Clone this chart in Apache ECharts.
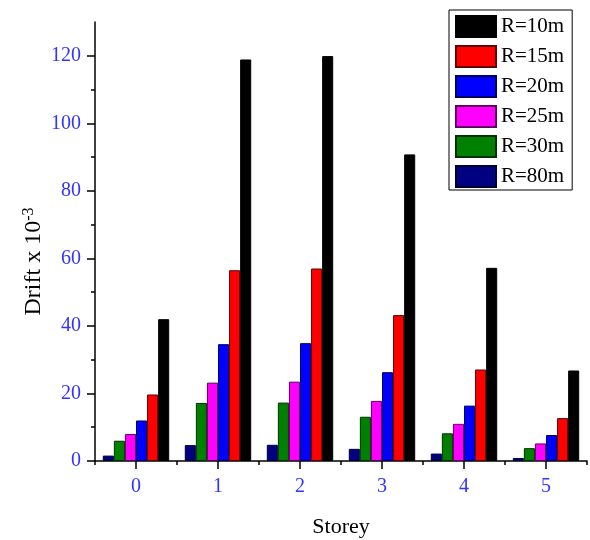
<!DOCTYPE html>
<html>
<head>
<meta charset="utf-8">
<script src="https://cdn.jsdelivr.net/npm/echarts@6/dist/echarts.min.js"></script>
<style>html,body{margin:0;padding:0;background:#fff}#c{width:590px;height:540px}</style>
</head>
<body>
<div id="c"></div>
<script>
var categories = ['0', '1', '2', '3', '4', '5'];
var seriesNames = ['R=80m', 'R=30m', 'R=25m', 'R=20m', 'R=15m', 'R=10m'];
var r80 = [1.6, 4.7, 4.8, 3.6, 2.2, 0.9];
var r30 = [6.0, 17.2, 17.3, 13.1, 8.2, 3.8];
var r25 = [8.0, 23.2, 23.5, 17.8, 11.0, 5.2];
var r20 = [12.0, 34.6, 34.9, 26.3, 16.4, 7.7];
var r15 = [19.7, 56.5, 57.0, 43.2, 27.1, 12.7];
var r10 = [42.0, 118.9, 119.9, 90.8, 57.2, 26.8];
var yMajorTicks = [0, 20, 40, 60, 80, 100, 120];
var yMinorTicks = [10, 30, 50, 70, 90, 110];
var legendOrder = ['R=10m', 'R=15m', 'R=20m', 'R=25m', 'R=30m', 'R=80m'];

var colors = ['#000080', '#008000', '#ff00ff', '#0000ff', '#ff0000', '#000000'];
var borders = ['#000030', '#003000', '#600060', '#000060', '#600000', '#000000'];
var values = [r80, r30, r25, r20, r15, r10];
var FONT = '"Liberation Serif", "DejaVu Serif", serif';

var chart = echarts.init(document.getElementById('c'), null, {renderer: 'canvas'});
var series = seriesNames.map(function (n, i) {
  return {
    name: n, type: 'bar', data: values[i],
    barGap: '0%', barCategoryGap: '19%',
    itemStyle: {color: colors[i], borderColor: borders[i], borderWidth: 1}
  };
});
chart.setOption({
  animation: false,
  grid: {left: 95, right: 3, top: 22, bottom: 79, containLabel: false, outerBoundsMode: 'none'},
  legend: {
    orient: 'vertical', left: 449, top: 10, data: legendOrder,
    itemWidth: 40, itemHeight: 21, itemGap: 7,
    padding: [5, 8, 2, 6],
    borderColor: '#000', borderWidth: 1, backgroundColor: '#fff',
    icon: 'rect',
    textStyle: {fontFamily: FONT, fontSize: 21, lineHeight: 21, color: '#000'}
  },
  xAxis: [{
    type: 'category', data: categories, boundaryGap: true,
    name: 'Storey', nameLocation: 'middle', nameGap: 55, nameMoveOverlap: false,
    nameTextStyle: {fontFamily: FONT, fontSize: 22, color: '#000'},
    axisLine: {show: true, lineStyle: {color: '#000', width: 1.5}},
    axisTick: {show: true, length: 4, lineStyle: {color: '#000', width: 1.5}},
    axisLabel: {fontFamily: FONT, fontSize: 20, color: '#3333ff', margin: 16},
    splitLine: {show: false}
  }, {
    type: 'category', data: categories, boundaryGap: true, position: 'bottom',
    axisLine: {show: false},
    axisTick: {show: true, alignWithLabel: true, length: 8, lineStyle: {color: '#000', width: 1.5}},
    axisLabel: {show: false},
    splitLine: {show: false}
  }],
  yAxis: [{
    type: 'value', min: 0, max: 130, interval: 10,
    name: 'Drift x 10{sup|-3}', nameLocation: 'middle', nameGap: 48, nameMoveOverlap: false,
    nameTextStyle: {
      fontFamily: FONT, fontSize: 24, color: '#000', padding: [0, 40, 0, 0],
      rich: {sup: {fontFamily: FONT, fontSize: 16, color: '#000', verticalAlign: 'top', lineHeight: 26}}
    },
    axisLine: {show: true, lineStyle: {color: '#000', width: 1.5}},
    axisTick: {show: true, length: 8, customValues: yMajorTicks, lineStyle: {color: '#000', width: 1.5}},
    axisLabel: {fontFamily: FONT, fontSize: 20, color: '#3333ff', margin: 14, customValues: yMajorTicks},
    splitLine: {show: false}
  }, {
    type: 'value', min: 0, max: 130, interval: 10, position: 'left',
    axisLine: {show: false},
    axisTick: {show: true, length: 4, customValues: yMinorTicks, lineStyle: {color: '#000', width: 1.5}},
    axisLabel: {show: false},
    splitLine: {show: false}
  }],
  series: series
});
</script>
</body>
</html>
